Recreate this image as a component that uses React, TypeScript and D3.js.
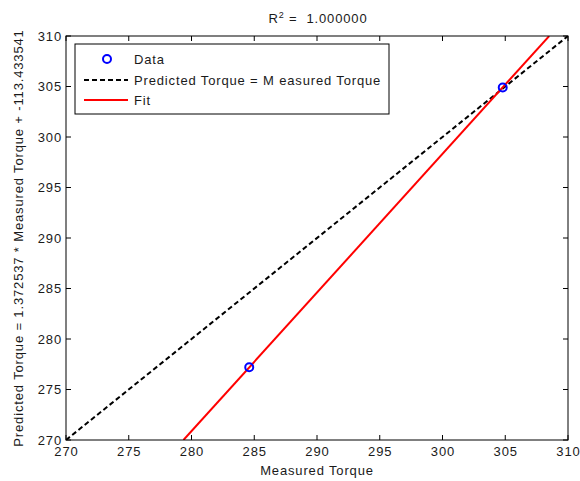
import React from "react";
import * as d3 from "d3";

const xTicks = [270, 275, 280, 285, 290, 295, 300, 305, 310];
const yTicks = [270, 275, 280, 285, 290, 295, 300, 305, 310];
const dataX = [284.6, 304.8];
const dataY = [277.2, 304.9];
const slope = 1.372537;
const intercept = -113.433541;
const identityX = [270, 310];
const fitX = [279.36, 308.5];
const legendLabels = ["Data", "Predicted Torque = M easured Torque", "Fit"];
const titleText = "1.000000";
const xLabel = "Measured Torque";
const yLabel = "Predicted Torque = 1.372537 * Measured Torque + -113.433541";

export default function App() {
  const W = 580, H = 481;
  const left = 66, right = 568, top = 36, bottom = 440;
  const x = d3.scaleLinear().domain([270, 310]).range([left, right]);
  const y = d3.scaleLinear().domain([270, 310]).range([bottom, top]);
  const line = d3.line<number[]>().x(d => x(d[0])).y(d => y(d[1]));
  const idPts = identityX.map(v => [v, v]);
  const fitPts = fitX.map(v => [v, slope * v + intercept]);
  const font = "'Liberation Sans', Arial, sans-serif";
  const tc = "#1a1a1a";
  const tl = 5;
  const ls = 0.85;
  return (
    <div style={{ position: "absolute", left: 0, top: 0 }}>
      <svg width={W} height={H} style={{ display: "block", background: "#fff" }} fontFamily={font} letterSpacing={ls}>
        <rect x={0} y={0} width={W} height={H} fill="#fff" />
        <defs>
          <clipPath id="plotclip">
            <rect x={left} y={top} width={right - left} height={bottom - top} />
          </clipPath>
        </defs>
        {xTicks.map(t => (
          <g key={"x" + t}>
            <line x1={x(t)} x2={x(t)} y1={bottom} y2={bottom - tl} stroke="#000" />
            <line x1={x(t)} x2={x(t)} y1={top} y2={top + tl} stroke="#000" />
            <text x={x(t) + ls / 2} y={bottom + 16} fontSize={13} textAnchor="middle" fill={tc}>{t}</text>
          </g>
        ))}
        {yTicks.map(t => (
          <g key={"y" + t}>
            <line x1={left} x2={left + tl} y1={y(t)} y2={y(t)} stroke="#000" />
            <line x1={right} x2={right - tl} y1={y(t)} y2={y(t)} stroke="#000" />
            <text x={left - 4} y={y(t) + 4.5} fontSize={13} textAnchor="end" fill={tc}>{t}</text>
          </g>
        ))}
        <g clipPath="url(#plotclip)">
          <path d={line(idPts) || ""} fill="none" stroke="#000" strokeWidth={2} strokeDasharray="5,3" />
          <path d={line(fitPts) || ""} fill="none" stroke="#ff0000" strokeWidth={2} />
        </g>
        {dataX.map((v, i) => (
          <circle key={i} cx={x(v)} cy={y(dataY[i])} r={4} fill="none" stroke="#0000ff" strokeWidth={2} />
        ))}
        <rect x={left} y={top} width={right - left} height={bottom - top} fill="none" stroke="#000" strokeWidth={1} />
        <rect x={75} y={44} width={314} height={70} fill="#fff" stroke="#000" strokeWidth={1} />
        <circle cx={107} cy={59} r={4} fill="none" stroke="#0000ff" strokeWidth={2} />
        <line x1={84} x2={128} y1={80} y2={80} stroke="#000" strokeWidth={2} strokeDasharray="5,3" />
        <line x1={84} x2={128} y1={100} y2={100} stroke="#ff0000" strokeWidth={2} />
        {legendLabels.map((l, i) => (
          <text key={l} x={134} y={64 + i * 20.5} fontSize={13} fill={tc} style={{ whiteSpace: "pre" }}>{l}</text>
        ))}
        <text x={318} y={23} fontSize={13} textAnchor="middle" fill={tc} style={{ whiteSpace: "pre" }}>
          R<tspan dy={-5} fontSize={9}>2</tspan><tspan dy={5}>{" =  " + titleText}</tspan>
        </text>
        <text x={(left + right) / 2} y={475} fontSize={13} textAnchor="middle" fill={tc}>{xLabel}</text>
        <text transform={`translate(23,${(top + bottom) / 2}) rotate(-90)`} fontSize={13} textAnchor="middle" fill={tc}>{yLabel}</text>
      </svg>
    </div>
  );
}
